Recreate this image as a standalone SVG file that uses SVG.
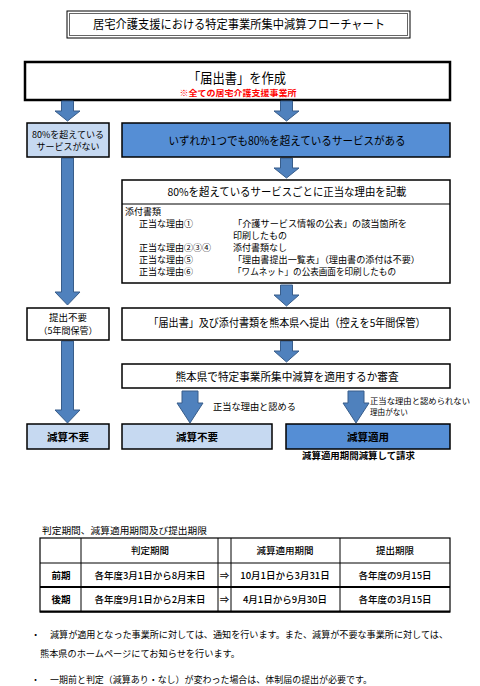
<svg xmlns="http://www.w3.org/2000/svg" width="480" height="686" viewBox="0 0 480 686">
<style>
text{font-family:"Noto Sans CJK JP","Noto Sans",sans-serif;fill:#000}
.c{text-anchor:middle}
.box{fill:#fff;stroke:#000;stroke-width:1.5}
.lb{fill:#C6D9F1;stroke:#000;stroke-width:1.5}
.db{fill:#558ED5;stroke:#000;stroke-width:1.5}
.arr{fill:#4F81BD;stroke:#385D8A;stroke-width:1}
.tl{stroke:#000;stroke-width:1;fill:none}
.d{font-size:9px}
</style>
<rect width="480" height="686" fill="#fff"/>

<g id="title">
<rect x="67" y="11" width="343" height="27" fill="#fff" stroke="#000" stroke-width="1"/>
<rect x="69.5" y="13.5" width="338" height="22" fill="none" stroke="#666" stroke-width="1"/>
<text x="239" y="29" class="c" font-size="12" textLength="292" lengthAdjust="spacingAndGlyphs">居宅介護支援における特定事業所集中減算フローチャート</text>
</g>

<g id="n_create">
<rect x="25" y="62" width="425" height="38" fill="#fff" stroke="#000" stroke-width="2.5"/>
<text x="237" y="83" class="c" font-size="13.5" textLength="98" lengthAdjust="spacingAndGlyphs">「届出書」を作成</text>
<text x="238" y="95.5" class="c" font-size="8" font-weight="bold" style="fill:#FF0000" textLength="117" lengthAdjust="spacingAndGlyphs">※全ての居宅介護支援事業所</text>
</g>

<g id="connectors">
<path class="arr" d="M61.5,101 H73.5 V111 H80 L67.5,121 L55,111 H61.5 Z"/>
<path class="arr" d="M280.5,101 H292.5 V111 H299 L286.5,121 L274,111 H280.5 Z"/>
<path class="arr" d="M61.5,158 H73.5 V292 H80 L67.5,305 L55,292 H61.5 Z"/>
<path class="arr" d="M280.5,158 H292.5 V168 H299 L286.5,178 L274,168 H280.5 Z"/>
<path class="arr" d="M280.5,285 H292.5 V295 H299 L286.5,306 L274,295 H280.5 Z"/>
<path class="arr" d="M280.5,341 H292.5 V351 H299 L286.5,362 L274,351 H280.5 Z"/>
<path class="arr" d="M61.5,341 H73.5 V410 H80 L67.5,423 L55,410 H61.5 Z"/>
<path class="arr" d="M182,391 H198 V403 H203 L190,423 L177,403 H182 Z"/>
<path class="arr" d="M348,391 H364 V403 H369 L356,423 L343,403 H348 Z"/>
<text x="213" y="410" font-size="9.5" textLength="83" lengthAdjust="spacingAndGlyphs">正当な理由と認める</text>
<text x="370" y="403.5" font-size="7.6" textLength="100" lengthAdjust="spacingAndGlyphs">正当な理由と認められない</text>
<text x="370" y="414.5" font-size="7.6">理由がない</text>
</g>

<g id="n_no80">
<rect x="27" y="123" width="82" height="34" class="lb"/>
<text x="68" y="137.5" class="c" font-size="9">80%を超えている</text>
<text x="68" y="150" class="c" font-size="9">サービスがない</text>
</g>

<g id="n_any80">
<rect x="122" y="123" width="328" height="34" class="db"/>
<text x="287" y="145" class="c" font-size="11.5" textLength="237" lengthAdjust="spacingAndGlyphs">いずれか1つでも80%を超えているサービスがある</text>
</g>

<g id="n_reason">
<rect x="122" y="180" width="328" height="103" class="box"/>
<line x1="122" y1="204" x2="450" y2="204" class="tl" stroke-width="1.2"/>
<text x="287" y="196" class="c" font-size="11" textLength="239" lengthAdjust="spacingAndGlyphs">80%を超えているサービスごとに正当な理由を記載</text>
<text x="125" y="215" class="d">添付書類</text>
<text x="139" y="227" class="d">正当な理由①</text>
<text x="233" y="227" class="d" textLength="174" lengthAdjust="spacingAndGlyphs">「介護サービス情報の公表」の該当箇所を</text>
<text x="233" y="239" class="d">印刷したもの</text>
<text x="139" y="251" class="d">正当な理由②③④</text>
<text x="233" y="251" class="d">添付書類なし</text>
<text x="139" y="263" class="d">正当な理由⑤</text>
<text x="233" y="263" class="d" textLength="187" lengthAdjust="spacingAndGlyphs">「理由書提出一覧表」（理由書の添付は不要）</text>
<text x="139" y="275" class="d">正当な理由⑥</text>
<text x="233" y="275" class="d" textLength="163" lengthAdjust="spacingAndGlyphs">「ワムネット」の公表画面を印刷したもの</text>
</g>

<g id="n_nosubmit">
<rect x="27" y="308" width="82" height="32" class="box"/>
<text x="68" y="321" class="c" font-size="9.5">提出不要</text>
<text x="68" y="334" class="c" font-size="9">（5年間保管）</text>
</g>

<g id="n_submit">
<rect x="122" y="308" width="328" height="32" class="box"/>
<text x="287" y="327" class="c" font-size="11" textLength="277" lengthAdjust="spacingAndGlyphs">「届出書」及び添付書類を熊本県へ提出（控えを5年間保管）</text>
</g>

<g id="n_review">
<rect x="122" y="364" width="328" height="24" class="box"/>
<text x="287" y="381" class="c" font-size="11" textLength="223" lengthAdjust="spacingAndGlyphs">熊本県で特定事業所集中減算を適用するか審査</text>
</g>

<g id="n_none1">
<rect x="27" y="424" width="82" height="25" class="lb"/>
<text x="68" y="441" class="c" font-size="10.5" font-weight="bold">減算不要</text>
</g>
<g id="n_none2">
<rect x="122" y="424" width="150" height="25" class="lb"/>
<text x="197" y="441" class="c" font-size="10.5" font-weight="bold">減算不要</text>
</g>
<g id="n_apply">
<rect x="286" y="424" width="164" height="25" class="db"/>
<text x="368" y="441" class="c" font-size="10.5" font-weight="bold">減算適用</text>
<text x="302" y="459" font-size="9.3" font-weight="bold" textLength="113" lengthAdjust="spacingAndGlyphs">減算適用期間減算して請求</text>
</g>

<g id="table">
<text x="42" y="534" font-size="9.3" textLength="165" lengthAdjust="spacingAndGlyphs">判定期間、減算適用期間及び提出期限</text>
<rect x="40" y="538" width="410" height="74" fill="none" stroke="#000" stroke-width="1.2"/>
<line x1="40" y1="563" x2="450" y2="563" class="tl"/>
<line x1="40" y1="587" x2="450" y2="587" stroke="#000" stroke-width="2"/>
<line x1="40" y1="611.5" x2="450" y2="611.5" stroke="#000" stroke-width="2"/>
<line x1="81" y1="538" x2="81" y2="612" class="tl"/>
<line x1="218" y1="538" x2="218" y2="612" class="tl"/>
<line x1="231" y1="538" x2="231" y2="612" class="tl"/>
<line x1="340" y1="538" x2="340" y2="612" class="tl"/>
<g font-size="9.5" text-anchor="middle" font-weight="500">
<text x="150" y="554">判定期間</text>
<text x="285" y="554">減算適用期間</text>
<text x="395" y="554">提出期限</text>
<text x="61" y="579" font-weight="bold">前期</text>
<text x="150" y="579">各年度3月1日から8月末日</text>
<text x="224.5" y="579">⇒</text>
<text x="285" y="579">10月1日から3月31日</text>
<text x="395" y="579">各年度の9月15日</text>
<text x="61" y="603" font-weight="bold">後期</text>
<text x="150" y="603">各年度9月1日から2月末日</text>
<text x="224.5" y="603">⇒</text>
<text x="285" y="603">4月1日から9月30日</text>
<text x="395" y="603">各年度の3月15日</text>
</g>
</g>

<g id="notes" font-size="9.3">
<text x="31" y="638">・</text>
<text x="50" y="638" textLength="398" lengthAdjust="spacingAndGlyphs">減算が適用となった事業所に対しては、通知を行います。また、減算が不要な事業所に対しては、</text>
<text x="40" y="657" textLength="200" lengthAdjust="spacingAndGlyphs">熊本県のホームページにてお知らせを行います。</text>
<text x="31" y="682.5" font-size="9">・</text>
<text x="50" y="682.5" font-size="9" textLength="322" lengthAdjust="spacingAndGlyphs">一期前と判定（減算あり・なし）が変わった場合は、体制届の提出が必要です。</text>
</g>
</svg>
